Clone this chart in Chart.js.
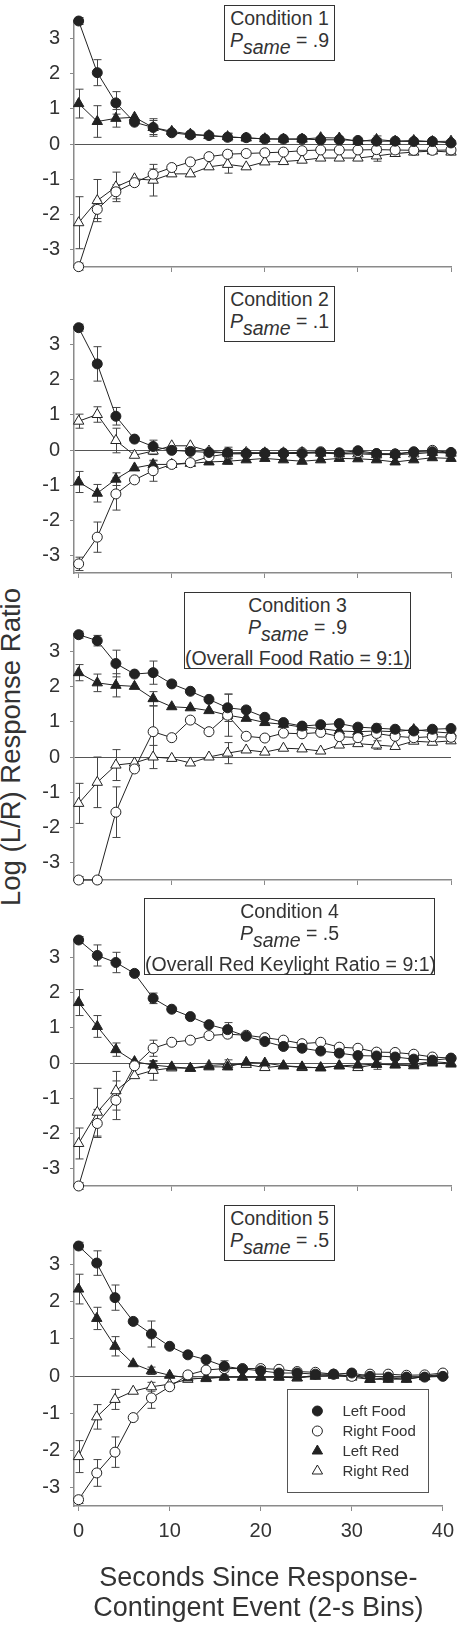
<!DOCTYPE html>
<html>
<head>
<meta charset="utf-8">
<script src="https://cdn.jsdelivr.net/npm/chart.js@4.4.1/dist/chart.umd.min.js"></script>
<style>
  html, body { margin: 0; padding: 0; background: #fff; }
  body { width: 462px; height: 1625px; position: relative; overflow: hidden; font-family: "Liberation Sans", Arial, sans-serif; color: #333; }
  .panel { position: absolute; left: 0; width: 462px; }
  .cond { position: absolute; background: #fff; border: 1px solid #333; box-sizing: border-box; text-align: center; font-size: 19.5px; line-height: 22px; padding-top: 1px; color: #333; white-space: nowrap; }
  .cond sub { font-size: 19.5px; vertical-align: -7px; line-height: 0; }
  .cond .note { margin-top: 9px; }
  #ytitle { position: absolute; left: 11px; top: 747px; transform: translate(-50%, -50%) rotate(-90deg); white-space: nowrap; font-size: 27.5px; color: #333; }
</style>
</head>
<body>
<div id="ytitle">Log (L/R) Response Ratio</div>

<canvas id="p1" class="panel" style="top:-1px" width="462" height="290"></canvas>
<canvas id="p2" class="panel" style="top:305px" width="462" height="290"></canvas>
<canvas id="p3" class="panel" style="top:612px" width="462" height="290"></canvas>
<canvas id="p4" class="panel" style="top:918px" width="462" height="290"></canvas>
<canvas id="p5" class="panel" style="top:1224px" width="462" height="401"></canvas>

<div class="cond" style="left:224px; top:5px; width:111px; height:56px;">
  <div>Condition 1</div>
  <div><i>P<sub>same</sub></i> = .9</div>
</div>
<div class="cond" style="left:224px; top:286px; width:111px; height:56px;">
  <div>Condition 2</div>
  <div><i>P<sub>same</sub></i> = .1</div>
</div>
<div class="cond" style="left:184px; top:592px; width:227px; height:77px;">
  <div>Condition 3</div>
  <div><i>P<sub>same</sub></i> = .9</div>
  <div class="note">(Overall Food Ratio = 9:1)</div>
</div>
<div class="cond" style="left:144px; top:898px; width:291px; height:77px;">
  <div>Condition 4</div>
  <div><i>P<sub>same</sub></i> = .5</div>
  <div class="note">(Overall Red Keylight Ratio = 9:1)</div>
</div>
<div class="cond" style="left:224px; top:1205px; width:111px; height:56px;">
  <div>Condition 5</div>
  <div><i>P<sub>same</sub></i> = .5</div>
</div>

<script>
// 2-s bins
const seconds = [0, 2, 4, 6, 8, 10, 12, 14, 16, 18, 20, 22, 24, 26, 28, 30, 32, 34, 36, 38, 40];
// bins that carry error bars
const errSeconds = [0, 2, 4, 8, 16, 32];
const xTicks = [0, 10, 20, 30, 40];
const yTicks = [-3, -2, -1, 0, 1, 2, 3];
const seriesNames = ["Left Food", "Right Food", "Left Red", "Right Red"];

// Condition 1
const leftFood1 = [3.5, 2.03, 1.17, 0.62, 0.47, 0.32, 0.26, 0.24, 0.19, 0.18, 0.14, 0.14, 0.14, 0.12, 0.12, 0.10, 0.08, 0.08, 0.07, 0.07, 0.03];
const rightFood1 = [-3.49, -1.86, -1.36, -1.1, -0.86, -0.67, -0.51, -0.36, -0.29, -0.27, -0.25, -0.23, -0.19, -0.17, -0.17, -0.17, -0.16, -0.17, -0.18, -0.18, -0.17];
const leftRed1 = [1.15, 0.64, 0.73, 0.76, 0.47, 0.36, 0.28, 0.24, 0.21, 0.17, 0.15, 0.14, 0.14, 0.18, 0.17, 0.07, 0.13, 0.08, 0.1, 0.07, 0.08];
const rightRed1 = [-2.24, -1.61, -1.22, -0.99, -1.03, -0.85, -0.85, -0.65, -0.58, -0.65, -0.51, -0.5, -0.46, -0.4, -0.4, -0.4, -0.34, -0.27, -0.23, -0.2, -0.23];
const errLeftFood1 = [0.1, 0.37, 0.32, 0.25, 0.1, 0.08];
const errRightFood1 = [0.1, 0.26, 0.2, 0.15, 0.1, 0.08];
const errLeftRed1 = [0.41, 0.45, 0.25, 0.2, 0.1, 0.1];
const errRightRed1 = [0.74, 0.6, 0.42, 0.45, 0.25, 0.15];

// Condition 2
const leftFood2 = [3.48, 2.45, 0.96, 0.31, 0.1, -0.01, -0.04, -0.07, -0.08, -0.1, -0.1, -0.1, -0.1, -0.07, -0.08, -0.02, -0.1, -0.12, -0.06, -0.05, -0.08];
const rightFood2 = [-3.24, -2.48, -1.25, -0.85, -0.59, -0.41, -0.36, -0.19, -0.11, -0.11, -0.09, -0.09, -0.07, -0.05, -0.11, -0.07, -0.11, -0.11, -0.05, -0.01, -0.07];
const leftRed2 = [-0.91, -1.23, -0.83, -0.51, -0.41, -0.41, -0.38, -0.34, -0.32, -0.28, -0.24, -0.28, -0.32, -0.28, -0.24, -0.25, -0.28, -0.34, -0.28, -0.22, -0.24];
const rightRed2 = [0.82, 1.01, 0.27, -0.15, -0.03, 0.12, 0.12, -0.03, -0.09, -0.07, -0.08, -0.08, -0.07, -0.09, -0.11, -0.11, -0.13, -0.13, -0.11, -0.07, -0.09];
const errLeftFood2 = [0.1, 0.49, 0.25, 0.18, 0.1, 0.08];
const errRightFood2 = [0.19, 0.43, 0.46, 0.3, 0.12, 0.05];
const errLeftRed2 = [0.3, 0.25, 0.18, 0.1, 0.08, 0.05];
const errRightRed2 = [0.2, 0.22, 0.35, 0.1, 0.17, 0.05];

// Condition 3
const leftFood3 = [3.48, 3.31, 2.66, 2.36, 2.4, 2.08, 1.87, 1.64, 1.4, 1.34, 1.13, 0.98, 0.88, 0.92, 0.95, 0.85, 0.82, 0.79, 0.74, 0.79, 0.81];
const rightFood3 = [-3.5, -3.5, -1.57, -0.34, 0.72, 0.55, 1.05, 0.72, 1.19, 0.59, 0.54, 0.68, 0.66, 0.7, 0.58, 0.55, 0.67, 0.59, 0.55, 0.58, 0.56];
const leftRed3 = [2.4, 2.11, 2.04, 2.01, 1.66, 1.43, 1.4, 1.32, 1.19, 1.1, 0.98, 0.93, 0.85, 0.81, 0.74, 0.72, 0.74, 0.72, 0.78, 0.72, 0.68];
const rightRed3 = [-1.32, -0.72, -0.23, -0.17, 0, -0.04, -0.17, 0, 0.11, 0.2, 0.14, 0.25, 0.23, 0.17, 0.34, 0.38, 0.34, 0.3, 0.45, 0.42, 0.46];
const errLeftFood3 = [0.1, 0.15, 0.38, 0.33, 0.39, 0.12];
const errRightFood3 = [0.1, 0.1, 0.72, 0.73, 0.6, 0.1];
const errLeftRed3 = [0.23, 0.25, 0.33, 0.2, 0.1, 0.08];
const errRightRed3 = [0.57, 0.72, 0.44, 0.33, 0.3, 0.12];

// Condition 4
const leftFood4 = [3.5, 3.06, 2.86, 2.55, 1.84, 1.53, 1.32, 1.09, 0.95, 0.76, 0.61, 0.47, 0.42, 0.34, 0.28, 0.21, 0.2, 0.17, 0.11, 0.08, 0.13];
const rightFood4 = [-3.5, -1.72, -1.06, -0.08, 0.42, 0.59, 0.65, 0.78, 0.82, 0.79, 0.72, 0.65, 0.55, 0.59, 0.45, 0.42, 0.31, 0.3, 0.25, 0.17, 0.14];
const leftRed4 = [1.72, 1.04, 0.38, 0.04, -0.06, -0.11, -0.15, -0.11, -0.11, 0.02, 0, -0.08, -0.11, -0.14, -0.08, -0.06, -0.03, -0.06, -0.08, 0, -0.03];
const rightRed4 = [-2.29, -1.4, -0.79, -0.36, -0.21, -0.14, -0.15, -0.07, -0.04, -0.04, -0.13, -0.08, -0.13, -0.13, -0.08, -0.13, -0.04, -0.04, -0.03, 0.04, 0];
const errLeftFood4 = [0.1, 0.3, 0.29, 0.15, 0.2, 0.08];
const errRightFood4 = [0.1, 0.4, 0.55, 0.23, 0.1, 0.08];
const errLeftRed4 = [0.37, 0.31, 0.19, 0.1, 0.08, 0.05];
const errRightRed4 = [0.44, 0.68, 0.55, 0.28, 0.13, 0.14];

// Condition 5
const leftFood5 = [3.5, 3.04, 2.11, 1.47, 1.13, 0.8, 0.57, 0.44, 0.26, 0.19, 0.14, 0.08, 0.08, 0.05, 0.05, 0.08, -0.01, -0.03, -0.03, -0.03, -0.01];
const rightFood5 = [-3.33, -2.61, -2.05, -1.12, -0.59, -0.29, 0.03, 0.16, 0.2, 0.2, 0.2, 0.18, 0.12, 0.1, 0.05, -0.01, 0.05, 0.05, 0.02, 0.03, 0.08];
const leftRed5 = [2.34, 1.55, 0.8, 0.33, 0.14, 0.02, -0.05, -0.07, -0.03, -0.03, -0.03, -0.03, -0.05, -0.01, 0.02, 0.02, -0.09, -0.09, -0.08, -0.02, 0.03];
const rightRed5 = [-2.17, -1.1, -0.63, -0.41, -0.29, -0.22, -0.09, -0.05, -0.03, -0.03, -0.03, -0.03, -0.05, 0.02, 0.03, -0.03, -0.09, -0.05, -0.09, -0.01, 0.05];
const errLeftFood5 = [0.1, 0.33, 0.34, 0.35, 0.15, 0.05];
const errRightFood5 = [0.1, 0.36, 0.41, 0.28, 0.05, 0.05];
const errLeftRed5 = [0.4, 0.3, 0.26, 0.1, 0.05, 0.05];
const errRightRed5 = [0.43, 0.33, 0.27, 0.12, 0.05, 0.05];

const ink = "#222";
const axisGrey = "#8a8a8a";
const family = "'Liberation Sans', Arial, sans-serif";

const markerStyles = [
  { pointStyle: "circle", radius: 5, fill: ink },
  { pointStyle: "circle", radius: 5, fill: "#fff" },
  { pointStyle: "triangle", radius: 6, fill: ink },
  { pointStyle: "triangle", radius: 6, fill: "#fff" },
];

// vertical error bars with caps, drawn under the markers
const errorBars = {
  id: "errorBars",
  beforeDatasetsDraw(chart) {
    const { ctx, scales: { x, y } } = chart;
    ctx.save();
    ctx.strokeStyle = "#444";
    ctx.lineWidth = 1;
    chart.data.datasets.forEach(ds => {
      errSeconds.forEach((s, k) => {
        const e = ds.errors[k];
        if (e == null) return;
        const v = ds.data[seconds.indexOf(s)].y;
        const px = Math.round(x.getPixelForValue(s)) + 0.5;
        const top = y.getPixelForValue(v + e);
        const bot = y.getPixelForValue(v - e);
        ctx.beginPath();
        ctx.moveTo(px, top); ctx.lineTo(px, bot);
        ctx.moveTo(px - 4, top); ctx.lineTo(px + 4, top);
        ctx.moveTo(px - 4, bot); ctx.lineTo(px + 4, bot);
        ctx.stroke();
      });
    });
    ctx.restore();
  }
};

function drawMarker(ctx, st, cx, cy) {
  ctx.beginPath();
  if (st.pointStyle === "circle") {
    ctx.arc(cx, cy, st.radius, 0, Math.PI * 2);
  } else {
    const r = st.radius;
    ctx.moveTo(cx, cy - r);
    ctx.lineTo(cx + r * Math.sin(Math.PI * 2 / 3), cy + r / 2);
    ctx.lineTo(cx - r * Math.sin(Math.PI * 2 / 3), cy + r / 2);
    ctx.closePath();
  }
  ctx.fillStyle = st.fill;
  ctx.fill();
  ctx.strokeStyle = ink;
  ctx.lineWidth = 1;
  ctx.stroke();
}

// boxed key in the lower right of the last panel
const keyBox = {
  id: "keyBox",
  afterDraw(chart) {
    const { ctx, chartArea } = chart;
    const right = chartArea.right - 14.5, bottom = chartArea.bottom - 14;
    const w = 141, h = 103;
    ctx.save();
    ctx.fillStyle = "#fff";
    ctx.fillRect(right - w, bottom - h, w, h);
    ctx.strokeStyle = "#555";
    ctx.lineWidth = 1;
    ctx.strokeRect(Math.round(right - w) + 0.5, Math.round(bottom - h) + 0.5, w, h);
    ctx.font = "15px " + family;
    ctx.textBaseline = "middle";
    seriesNames.forEach((name, i) => {
      const rowY = bottom - h + 22 + i * 20;
      drawMarker(ctx, markerStyles[i], right - w + 30, rowY);
      ctx.fillStyle = "#333";
      ctx.fillText(name, right - w + 55, rowY + 1);
    });
    ctx.restore();
  }
};

function makePanel(id, series, errs, last) {
  const datasets = series.map((vals, i) => ({
    label: seriesNames[i],
    data: seconds.map((s, j) => ({ x: s, y: vals[j] })),
    errors: errs[i],
    borderColor: ink,
    borderWidth: 1,
    pointStyle: markerStyles[i].pointStyle,
    pointRadius: markerStyles[i].radius,
    pointBackgroundColor: markerStyles[i].fill,
    pointBorderColor: ink,
    pointBorderWidth: 1,
    tension: 0,
    clip: false,
  }));

  return new Chart(document.getElementById(id), {
    type: "line",
    data: { datasets },
    plugins: last ? [errorBars, keyBox] : [errorBars],
    options: {
      responsive: false,
      animation: false,
      layout: { padding: { top: 6, left: 0, right: 11, bottom: 0 } },
      plugins: { legend: { display: false }, tooltip: { enabled: false } },
      scales: {
        x: {
          type: "linear",
          min: -0.5,
          max: 40,
          afterBuildTicks: s => { s.ticks = xTicks.map(v => ({ value: v })); },
          afterFit: s => { s.height = last ? 119 : 8; },
          ticks: { display: last, autoSkip: false, maxRotation: 0, padding: 8, color: "#333", font: { size: 20, family } },
          grid: { drawOnChartArea: false, tickColor: axisGrey, tickLength: 5 },
          border: { color: axisGrey, width: 1.5 },
          title: {
            display: last,
            text: ["Seconds Since Response-", "Contingent Event (2-s Bins)"],
            color: "#333",
            font: { size: 27, family, lineHeight: 1.1 },
            padding: { top: 0, bottom: 2 },
          },
        },
        y: {
          type: "linear",
          min: -3.5,
          max: 3.5,
          afterBuildTicks: s => { s.ticks = yTicks.map(v => ({ value: v })); },
          afterFit: s => { s.width = 74; },
          ticks: { padding: 10, color: "#333", font: { size: 20, family } },
          grid: {
            color: c => (c.tick && c.tick.value === 0 ? "#555" : "rgba(0,0,0,0)"),
            tickColor: axisGrey,
            tickLength: 4,
            lineWidth: 1,
          },
          border: { color: axisGrey, width: 1.5 },
        },
      },
    },
  });
}

makePanel("p1", [leftFood1, rightFood1, leftRed1, rightRed1], [errLeftFood1, errRightFood1, errLeftRed1, errRightRed1], false);
makePanel("p2", [leftFood2, rightFood2, leftRed2, rightRed2], [errLeftFood2, errRightFood2, errLeftRed2, errRightRed2], false);
makePanel("p3", [leftFood3, rightFood3, leftRed3, rightRed3], [errLeftFood3, errRightFood3, errLeftRed3, errRightRed3], false);
makePanel("p4", [leftFood4, rightFood4, leftRed4, rightRed4], [errLeftFood4, errRightFood4, errLeftRed4, errRightRed4], false);
makePanel("p5", [leftFood5, rightFood5, leftRed5, rightRed5], [errLeftFood5, errRightFood5, errLeftRed5, errRightRed5], true);
</script>
</body>
</html>
